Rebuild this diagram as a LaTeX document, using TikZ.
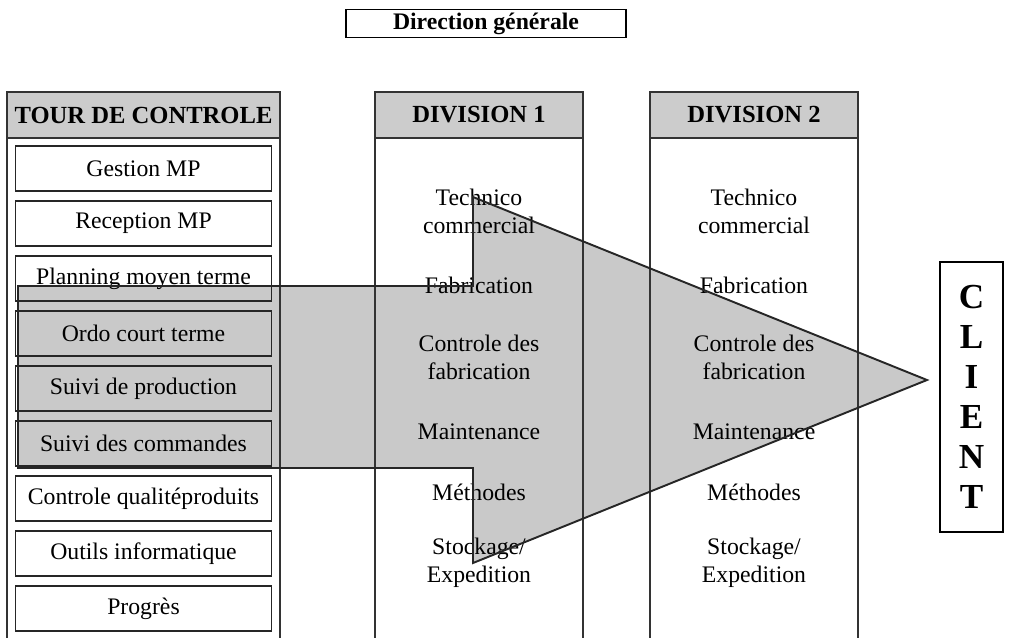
\documentclass[tikz,border=0pt]{standalone}
\usepackage{fontspec}
\setmainfont{Liberation Serif}
\usetikzlibrary{positioning}

\begin{document}
\begin{tikzpicture}[
    every node/.style={font=\fontsize{13.5}{16}\selectfont},
    frame/.style={draw=black!80, line width=1.4pt},
    head/.style={draw=black!80, line width=1.4pt, fill=black!20, minimum height=0.92cm, inner sep=0pt, font=\fontsize{14}{16}\selectfont\bfseries},
    item/.style={draw=black!85, line width=0.9pt, minimum width=5.12cm, minimum height=0.9cm, inner sep=0pt},
    task/.style={align=center, inner sep=0pt},
    flow/.style={draw=black!85, line width=1.1pt}
]
\useasboundingbox (0,0) rectangle (20.2,-12.76);

% Corners of the big arrow
\coordinate (a1) at (0.36,-5.72);
\coordinate (a2) at (9.46,-5.72);
\coordinate (a3) at (9.46,-3.94);
\coordinate (tip) at (18.54,-7.6);
\coordinate (a5) at (9.46,-11.26);
\coordinate (a6) at (9.46,-9.36);
\coordinate (a7) at (0.36,-9.36);

% Arrow fill (behind everything)
\fill[black!21] (a1) -- (a2) -- (a3) -- (tip) -- (a5) -- (a6) -- (a7) -- cycle;

% Top
\node[draw, line width=0.9pt, minimum width=5.6cm, minimum height=0.56cm, inner sep=0pt, font=\fontsize{13.5}{16}\selectfont\bfseries] (dg) at (9.72,-0.47) {Direction générale};

% Columns (open at the bottom)
\draw[frame] (0.14,-12.76) |- (5.6,-1.84) -- (5.6,-12.76);
\draw[frame] (7.5,-12.76) |- (11.66,-1.84) -- (11.66,-12.76);
\draw[frame] (13.0,-12.76) |- (17.16,-1.84) -- (17.16,-12.76);

% Headers
\node[head, minimum width=5.46cm] (tour) at (2.87,-2.3) {TOUR DE CONTROLE};
\node[head, minimum width=4.16cm] (div1) at (9.58,-2.3) {DIVISION 1};
\node[head, minimum width=4.16cm] (div2) at (15.08,-2.3) {DIVISION 2};

% Tour de controle
\node[item] (gmp)  at (2.87,-3.37)  {Gestion MP};
\node[item] (rmp)  at (2.87,-4.47)  {Reception MP};
\node[item] (plan) at (2.87,-5.57)  {Planning moyen terme};
\node[item] (ordo) at (2.87,-6.67)  {Ordo court terme};
\node[item] (sprod) at (2.87,-7.77) {Suivi de production};
\node[item] (scmd) at (2.87,-8.87)  {Suivi des commandes};
\node[item] (cqp)  at (2.87,-9.97)  {Controle qualitéproduits};
\node[item] (info) at (2.87,-11.07) {Outils informatique};
\node[item] (prog) at (2.87,-12.17) {Progrès};

% Division 1
\node[task] (tech1) at (9.58,-4.22)  {Technico\\commercial};
\node[task] (fab1)  at (9.58,-5.7)   {Fabrication};
\node[task] (ctrl1) at (9.58,-7.14)  {Controle des\\fabrication};
\node[task] (maint1) at (9.58,-8.64) {Maintenance};
\node[task] (meth1) at (9.58,-9.84)  {Méthodes};
\node[task] (stock1) at (9.58,-11.26) {Stockage/\\Expedition};

% Division 2
\node[task] (tech2) at (15.08,-4.22)  {Technico\\commercial};
\node[task] (fab2)  at (15.08,-5.7)   {Fabrication};
\node[task] (ctrl2) at (15.08,-7.14)  {Controle des\\fabrication};
\node[task] (maint2) at (15.08,-8.64) {Maintenance};
\node[task] (meth2) at (15.08,-9.84)  {Méthodes};
\node[task] (stock2) at (15.08,-11.26) {Stockage/\\Expedition};

% Client
\node[draw, line width=1pt, minimum width=1.26cm, minimum height=5.4cm, align=center, inner sep=0pt, font=\fontsize{20}{22.7}\selectfont\bfseries] (client) at (19.43,-7.94) {C\\L\\I\\E\\N\\T};

% Arrow outline on top
\draw[flow] (a1) -- (a2) -- (a3) -- (tip) -- (a5) -- (a6) -- (a7) -- cycle;

\end{tikzpicture}
\end{document}
